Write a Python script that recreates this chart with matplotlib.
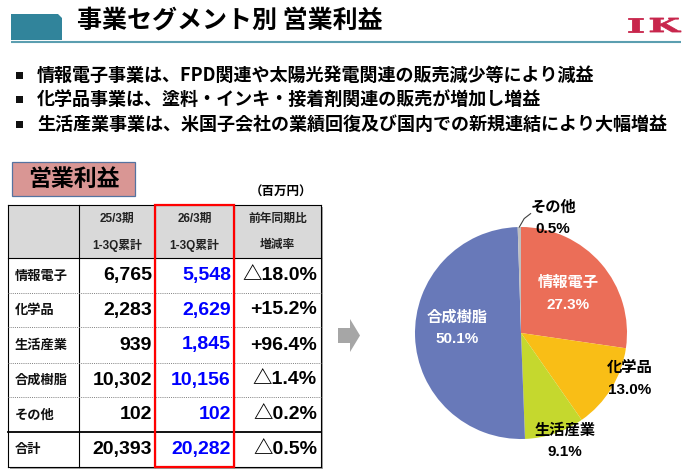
import matplotlib
matplotlib.use("Agg")
import numpy as np
import matplotlib.pyplot as plt
from matplotlib.patches import Rectangle, Polygon, PathPatch
from matplotlib.textpath import TextPath
from matplotlib.font_manager import FontProperties
from matplotlib.transforms import Affine2D

JP = ['Noto Sans CJK JP', 'DejaVu Sans']
NUM = ['Liberation Sans', 'Noto Sans CJK JP', 'DejaVu Sans']

# データ
title = '事業セグメント別 営業利益'
bullets = [
    '情報電子事業は、FPD関連や太陽光発電関連の販売減少等により減益',
    '化学品事業は、塗料・インキ・接着剤関連の販売が増加し増益',
    '生活産業事業は、米国子会社の業績回復及び国内での新規連結により大幅増益',
]
segments = ['情報電子', '化学品', '生活産業', '合成樹脂', 'その他']
prev_op = [6765, 2283, 939, 10302, 102]
curr_op = [5548, 2629, 1845, 10156, 102]
change = ['△18.0%', '+15.2%', '+96.4%', '△1.4%', '△0.2%']
total_label = '合計'
total_prev = 20393
total_curr = 20282
total_change = '△0.5%'
head_top = ['25/3期', '26/3期', '前年同期比']
head_bot = ['1-3Q累計', '1-3Q累計', '増減率']
unit = '（百万円）'
pie_pct = [27.3, 13.0, 9.1, 50.1, 0.5]
pie_colors = ['#EB6E58', '#F9BE16', '#C5D82E', '#6879B9', '#BFBFBF']

fig = plt.figure(figsize=(6.93, 4.74), dpi=100)
fig.patch.set_facecolor('white')
bg = fig.add_axes([0, 0, 1, 1])
bg.set_xlim(0, 693)
bg.set_ylim(474, 0)
bg.axis('off')

# ヘッダー
bg.add_patch(Polygon([(11, 14), (58, 14), (62, 18), (62, 40), (11, 40)],
                     closed=True, fc='#31849B', ec='none'))
bg.plot([11, 681], [41.5, 41.5], color='#5B9EB0', lw=1.5, solid_capstyle='butt')
bg.text(77, 22, title, fontsize=18, fontweight='bold', family=JP, va='center', ha='left')

# IK ロゴ
fp = FontProperties(family='DejaVu Serif', weight='bold')
for ch, box in (('I', (628, 18, 643, 32)), ('K', (650, 18, 681, 32))):
    tp = TextPath((0, 0), ch, size=20, prop=fp)
    ext = tp.get_extents()
    tr = (Affine2D().translate(-ext.x0, -ext.y0)
          .scale((box[2] - box[0]) / ext.width, -(box[3] - box[1]) / ext.height)
          .translate(box[0], box[3]))
    bg.add_patch(PathPatch(tr.transform_path(tp), fc='#C8264C', ec='#C8264C', lw=0.6))

# 箇条書き
for i, b in enumerate(bullets):
    yc = 75 + i * 24.5
    bg.add_patch(Rectangle((16, yc - 3.5), 7, 7, fc='#111111', ec='none'))
    bg.text(37, yc, b, fontsize=13, fontweight='bold', family=JP, va='center', ha='left')

# 営業利益 ボックス
bg.add_patch(Rectangle((12, 162), 123, 34, fc='#D99694', ec='#5573A0', lw=0.9))
bg.text(73.5, 179, '営業利益', fontsize=16.5, fontweight='bold', family=JP,
        va='center', ha='center')
bg.text(281, 192, unit, fontsize=9, fontweight='bold', family=JP, va='center', ha='center')

# 表
col_x = [8, 79, 155, 234, 321]
row_y = [205, 258, 293, 327, 363, 397, 432, 467]
tw = col_x[-1] - col_x[0]
th = row_y[-1] - row_y[0]
bg.add_patch(Rectangle((col_x[0] + 2, row_y[0] + 2), tw, th, fc='#A6A6A6', ec='none'))
bg.add_patch(Rectangle((col_x[0], row_y[0]), tw, th, fc='white', ec='none'))
bg.add_patch(Rectangle((col_x[0], row_y[0]), tw, row_y[1] - row_y[0], fc='#D9D9D9', ec='none'))

for x in col_x:
    bg.plot([x, x], [row_y[0], row_y[-1]], color='black', lw=0.8)
for j, y in enumerate(row_y):
    if j in (0, 1, len(row_y) - 1):
        bg.plot([col_x[0], col_x[-1]], [y, y], color='black', lw=0.8)
    elif j == len(row_y) - 2:
        bg.plot([col_x[0], col_x[-1]], [y, y], color='black', lw=1.3)
    else:
        bg.plot([col_x[0], col_x[-1]], [y, y], color='#7F7F7F', lw=0.7, ls=(0, (1, 1.2)))

for k in range(3):
    xc = (col_x[k + 1] + col_x[k + 2]) / 2
    bg.text(xc, 219, head_top[k], fontsize=8.5, fontweight='bold', family=NUM,
            va='center', ha='center', color='#222222')
    bg.text(xc, 245, head_bot[k], fontsize=8.5, fontweight='bold', family=NUM,
            va='center', ha='center', color='#222222')

names = segments + [total_label]
prevs = prev_op + [total_prev]
currs = curr_op + [total_curr]
chgs = change + [total_change]
for r in range(len(names)):
    yc = (row_y[r + 1] + row_y[r + 2]) / 2
    bg.text(15, yc, names[r], fontsize=9.5, fontweight='bold', family=JP,
            va='center', ha='left', color='#111111')
    bg.text(col_x[2] - 3, yc, f'{prevs[r]:,}', fontsize=14, fontweight='bold',
            family=NUM, va='center', ha='right', color='black')
    bg.text(col_x[3] - 3, yc, f'{currs[r]:,}', fontsize=14, fontweight='bold',
            family=NUM, va='center', ha='right', color='#0000FF')
    bg.text(col_x[4] - 4, yc, chgs[r], fontsize=14, fontweight='bold',
            family=NUM, va='center', ha='right', color='black')

bg.add_patch(Rectangle((col_x[2], row_y[0]), col_x[3] - col_x[2], th,
                       fill=False, ec='#FF0000', lw=1.6, zorder=5))

# 矢印
bg.add_patch(Polygon([(338, 328), (350, 328), (350, 319), (360, 335.5),
                      (350, 352), (350, 343), (338, 343)], closed=True,
                     fc='#A6A6A6', ec='none'))

# 円グラフ
cx, cy, rad = 521, 333, 106
half = 1.25 * rad
pax = fig.add_axes([(cx - half) / 693, (474 - cy - half) / 474, 2 * half / 693, 2 * half / 474])
wedges, _ = pax.pie(pie_pct, colors=pie_colors, startangle=90, counterclock=False,
                    radius=1, wedgeprops=dict(linewidth=0))
pax.set_xlim(-1.25, 1.25)
pax.set_ylim(-1.25, 1.25)
pax.set_aspect('equal')
pax.axis('off')

label_r = [0.58, 1.11, 1.10, 0.60, 1.127]
label_shift = [-1.2, 8.8, 3.7, -6.5, -16.5]
label_col = ['white', 'black', 'black', 'white', 'black']
dy = 11.5 / rad
for w, name, p, r, sh, c in zip(wedges, segments, pie_pct, label_r, label_shift, label_col):
    mid = (w.theta1 + w.theta2) / 2
    a = np.deg2rad(mid + sh)
    x, y = r * np.cos(a), r * np.sin(a)
    pax.text(x, y + dy, name, fontsize=11, fontweight='bold', family=JP,
             ha='center', va='center', color=c)
    pax.text(x, y - dy, f'{p:.1f}%', fontsize=11, fontweight='bold', family=NUM,
             ha='center', va='center', color=c)

# その他 の引出線
w = wedges[-1]
mid = np.deg2rad((w.theta1 + w.theta2) / 2)
pts = [(1.0, mid), (1.08, mid - np.deg2rad(2.5)), (1.13, mid - np.deg2rad(5.5))]
pax.plot([r * np.cos(a) for r, a in pts], [r * np.sin(a) for r, a in pts],
         color='#404040', lw=0.8)

fig.savefig('out.png', dpi=100)
